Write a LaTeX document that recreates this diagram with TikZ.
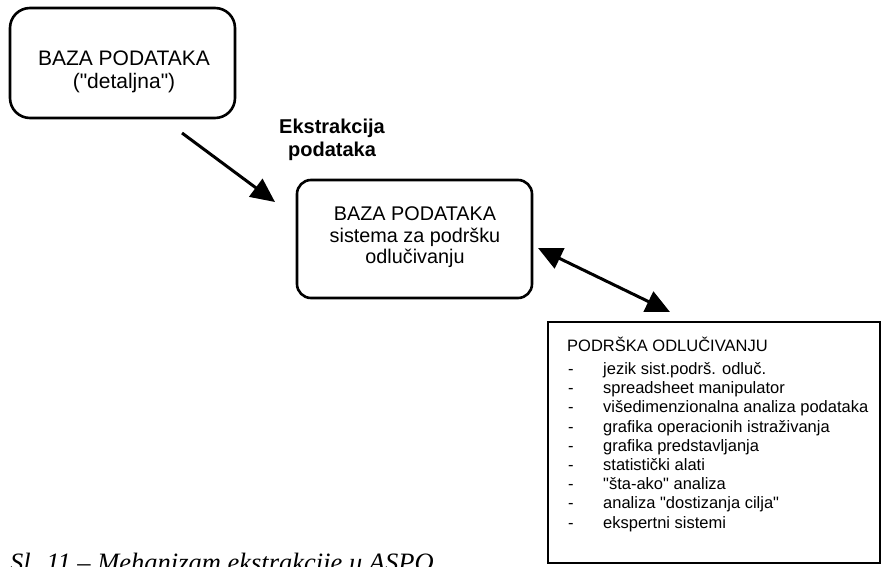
\documentclass[tikz,border=0pt]{standalone}
\usepackage{fontspec}
\setmainfont{Liberation Sans}[Ligatures=TeXOff]
\newfontfamily\capfont{Liberation Serif}
\usetikzlibrary{arrows.meta}
\newcommand\dq{\symbol{34}}
\begin{document}
\begin{tikzpicture}[x=1pt,y=-1pt,
  rbox/.style={draw, line width=2.6pt, rounded corners=#1, inner sep=0pt},
  sqbox/.style={draw, line width=2.4pt, inner sep=0pt},
  bigtxt/.style={inner sep=0pt, align=center, font=\fontsize{21}{23}\selectfont},
  midtxt/.style={inner sep=0pt, align=center, font=\fontsize{19.8}{21.5}\selectfont},
  lbltxt/.style={inner sep=0pt, align=center, font=\bfseries\fontsize{20}{23}\selectfont},
  listtxt/.style={inner sep=0pt, anchor=base west, font=\fontsize{16.5}{19}\selectfont},
  >={Triangle[length=24pt,width=22pt]},
  conn/.style={line width=3pt}
]
\useasboundingbox (0,0) rectangle (881,567);
\clip (0,0) rectangle (881,567);

% box 1
\node[rbox=20pt, minimum width=225pt, minimum height=110pt] (db1) at (122.5,63) {};
\node[bigtxt] (db1t) at (124,72) {BAZA PODATAKA\\(\dq detaljna\dq)};

% label
\node[lbltxt] (ekst) at (332,139.5) {Ekstrakcija\\podataka};

% box 2
\node[rbox=14pt, minimum width=235pt, minimum height=118pt] (db2) at (414.5,239) {};
\node[midtxt] (db2t) at (415,237.5) {BAZA PODATAKA\\sistema za podršku\\odlučivanju};

% box 3
\node[sqbox, minimum width=332pt, minimum height=241pt] (ps) at (714,442.5) {};
\node[listtxt] (pst) at (567,351) {PODRŠKA ODLUČIVANJU};
\foreach \i/\t in {0/jezik sist.podrš. odluč.,
                   1/spreadsheet manipulator,
                   2/višedimenzionalna analiza podataka,
                   3/grafika operacionih istraživanja,
                   4/grafika predstavljanja,
                   5/statistički alati,
                   6/\dq šta-ako\dq{} analiza,
                   7/analiza \dq dostizanja cilja\dq,
                   8/ekspertni sistemi}{
  \node[listtxt] (d\i) at (568,374.5+19.2*\i) {-};
  \node[listtxt] (it\i) at (603,374.5+19.2*\i) {\t};
}

% arrows
\coordinate (a1s) at (182,133);
\coordinate (a1e) at (275,202);
\draw[conn, ->] (a1s) -- (a1e);
\coordinate (a2s) at (538,248);
\coordinate (a2e) at (670,312);
\draw[conn, <->] (a2s) -- (a2e);

% caption
\node[anchor=base west, inner sep=0pt, font=\capfont\itshape\fontsize{26.5}{30}\selectfont] (cap) at (10,571) {Sl. 11 – Mehanizam ekstrakcije u ASPO};
\end{tikzpicture}
\end{document}
